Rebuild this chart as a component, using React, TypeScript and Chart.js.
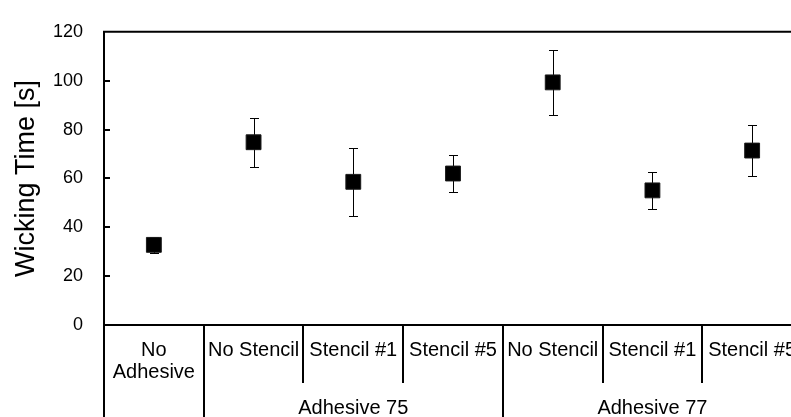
import React, { useEffect, useRef } from "react";
import { Chart, registerables } from "chart.js";

Chart.register(...registerables);

// ---- data ----
const categoryLabels: string[][] = [
  ["No", "Adhesive"],
  ["No Stencil"],
  ["Stencil #1"],
  ["Stencil #5"],
  ["No Stencil"],
  ["Stencil #1"],
  ["Stencil #5"],
];
const groupLabels: string[] = ["", "Adhesive 75", "Adhesive 77"];
const groupStarts: number[] = [0, 1, 4];
const groupEnds: number[] = [0, 3, 6];
const meanValues: number[] = [32.8, 74.8, 58.6, 62.0, 99.3, 55.1, 71.4];
const errorValues: number[] = [3.2, 10.0, 13.9, 7.5, 13.3, 7.6, 10.6];
const yTickValues: number[] = [0, 20, 40, 60, 80, 100, 120];
const yTitle = "Wicking Time [s]";

const FONT = "'Liberation Sans', Arial, sans-serif";

const decorPlugin = {
  id: "decor",
  beforeDatasetsDraw(chart: any) {
    const { ctx, scales } = chart;
    const x = scales.x;
    const y = scales.y;
    ctx.save();
    ctx.strokeStyle = "#000";
    ctx.lineWidth = 1;
    meanValues.forEach((m, i) => {
      const px = Math.round(x.getPixelForValue(i)) + 0.5;
      const top = Math.round(y.getPixelForValue(m + errorValues[i])) + 0.5;
      const bot = Math.round(y.getPixelForValue(m - errorValues[i])) + 0.5;
      ctx.beginPath();
      ctx.moveTo(px, top);
      ctx.lineTo(px, bot);
      ctx.moveTo(px - 4.5, top);
      ctx.lineTo(px + 4.5, top);
      ctx.moveTo(px - 4.5, bot);
      ctx.lineTo(px + 4.5, bot);
      ctx.stroke();
    });
    ctx.restore();
  },
  afterDraw(chart: any) {
    const { ctx, chartArea, scales } = chart;
    const x = scales.x;
    const y = scales.y;
    const { left, right, top, bottom } = chartArea;
    const H = chart.height;
    ctx.save();
    ctx.strokeStyle = "#000";
    ctx.lineWidth = 2;
    ctx.beginPath();
    // top border
    ctx.moveTo(left - 1, top);
    ctx.lineTo(right, top);
    // left axis extending through category area
    ctx.moveTo(left, top);
    ctx.lineTo(left, H);
    // bottom axis
    ctx.moveTo(left - 1, bottom);
    ctx.lineTo(right, bottom);
    ctx.stroke();

    // inward tick marks
    ctx.beginPath();
    yTickValues.forEach((v) => {
      if (v === 0 || v === 120) return;
      const py = Math.round(y.getPixelForValue(v));
      ctx.moveTo(left, py);
      ctx.lineTo(left + 6, py);
    });
    ctx.stroke();

    // separators
    const groupBoundaries = new Set<number>();
    groupStarts.forEach((s) => groupBoundaries.add(s));
    groupEnds.forEach((e) => groupBoundaries.add(e + 1));
    ctx.beginPath();
    for (let k = 1; k <= categoryLabels.length; k++) {
      const px = Math.round(x.getPixelForValue(k - 0.5));
      ctx.moveTo(px, bottom);
      ctx.lineTo(px, groupBoundaries.has(k) ? H : bottom + 58);
    }
    ctx.stroke();

    // category labels
    ctx.fillStyle = "#000";
    ctx.font = `20px ${FONT}`;
    ctx.textAlign = "center";
    ctx.textBaseline = "middle";
    categoryLabels.forEach((lines, i) => {
      const px = x.getPixelForValue(i);
      lines.forEach((ln, j) => {
        ctx.fillText(ln, px, bottom + 25 + j * 22);
      });
    });

    // group labels
    groupLabels.forEach((g, i) => {
      if (!g) return;
      const px = (x.getPixelForValue(groupStarts[i]) + x.getPixelForValue(groupEnds[i])) / 2;
      ctx.fillText(g, px, bottom + 83);
    });

    // y title
    ctx.translate(27, (top + bottom) / 2);
    ctx.rotate(-Math.PI / 2);
    ctx.font = `27px ${FONT}`;
    ctx.fillText(yTitle, 0, 0);
    ctx.restore();
  },
};

export default function App() {
  const ref = useRef<HTMLCanvasElement | null>(null);
  useEffect(() => {
    document.body.style.margin = "0";
    document.body.style.overflow = "hidden";
    document.documentElement.style.overflow = "hidden";
    const canvas = ref.current;
    if (!canvas) return;
    const chart = new Chart(canvas, {
      type: "scatter",
      data: {
        datasets: [
          {
            data: meanValues.map((v, i) => ({ x: i, y: v })),
            pointStyle: "rect",
            pointRadius: 10.5,
            pointHoverRadius: 10.5,
            backgroundColor: "#000",
            borderColor: "#1a1a1a",
            borderWidth: 1,
          },
        ],
      },
      options: {
        responsive: false,
        animation: false,
        devicePixelRatio: 1,
        layout: { padding: { top: 24, bottom: 92, left: 0, right: 13 } },
        plugins: { legend: { display: false }, tooltip: { enabled: false } },
        scales: {
          x: { type: "linear", min: -0.5, max: 6.5, display: false },
          y: {
            type: "linear",
            min: 0,
            max: 120,
            afterBuildTicks: (s: any) => {
              s.ticks = yTickValues.map((v) => ({ value: v }));
            },
            afterFit: (s: any) => {
              s.width = 104;
            },
            ticks: {
              color: "#000",
              padding: 21,
              font: { family: FONT, size: 18 },
            },
            grid: { display: false, drawTicks: false },
            border: { display: false },
          },
        },
      },
      plugins: [decorPlugin],
    } as any);
    return () => chart.destroy();
  }, []);
  return (
    <div style={{ width: 791, height: 417, overflow: "hidden", position: "relative" }}>
      <canvas ref={ref} width={815} height={417} style={{ display: "block", width: 815, height: 417 }} />
    </div>
  );
}
